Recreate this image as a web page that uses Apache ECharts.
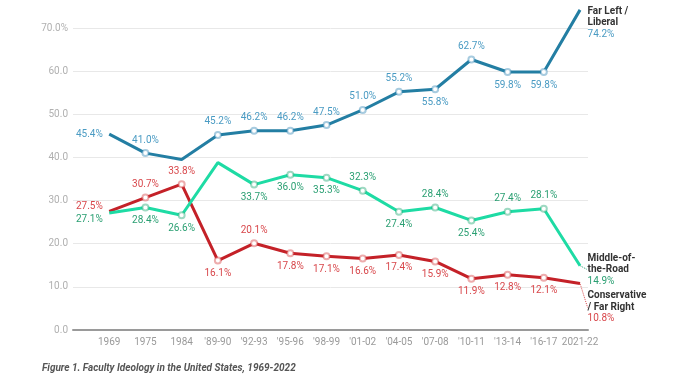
<!DOCTYPE html>
<html>
<head>
<meta charset="utf-8">
<script src="https://cdn.jsdelivr.net/npm/echarts@6/dist/echarts.min.js"></script>
<style>
  html, body { margin: 0; padding: 0; background: #fff; }
  #chart { width: 695px; height: 375px; }
</style>
</head>
<body>
<div id="chart"></div>
<script>
  // survey waves
  var categories = ['1969', '1975', '1984', "'89-90", "'92-93", "'95-96", "'98-99",
    "'01-02", "'04-05", "'07-08", "'10-11", "'13-14", "'16-17", '2021-22']

  // percent of faculty
  var liberal = [45.4, 41.0, 39.5, 45.2, 46.2, 46.2, 47.5, 51.0, 55.2, 55.8, 62.7, 59.8, 59.8, 74.2]
  var middle = [27.1, 28.4, 26.6, 38.8, 33.7, 36.0, 35.3, 32.3, 27.4, 28.4, 25.4, 27.4, 28.1, 14.9]
  var conservative = [27.5, 30.7, 33.8, 16.1, 20.1, 17.8, 17.1, 16.6, 17.4, 15.9, 11.9, 12.8, 12.1, 10.8]

  var seriesNames = ['Far Left /\nLiberal', 'Middle-of-\nthe-Road', 'Conservative\n/ Far Right']
  var yTicks = [0, 10, 20, 30, 40, 50, 60, 70]

  // where each value label sits: t = top, b = bottom, l = left, e = end label, '' = none
  var liberalPlace = ['l', 't', '', 't', 't', 't', 't', 't', 't', 'b', 't', 'b', 'b', 'e']
  var middlePlace = ['l', 'b', 'b', '', 'b', 'b', 'b', 't', 'b', 't', 'b', 't', 't', 'e']
  var conservativePlace = ['l', 't', 't', 'b', 't', 'b', 'b', 'b', 'b', 'b', 'b', 'b', 'b', 'e']

  var posMap = { t: 'top', b: 'bottom', l: 'left', e: 'right' }

  function buildData (values, places, name, labelColor, showGuide) {
    return values.map(function (v, i) {
      var p = places[i]
      var item = { value: [i, v] }
      if (p === '' || p === 'l' || p === 'e') {
        // keep a tiny invisible symbol so the label still has an anchor
        item.symbol = 'circle'
        item.symbolSize = 1
        item.itemStyle = { color: 'rgba(0,0,0,0)', borderWidth: 0 }
      }
      if (p === '') {
        item.label = { show: false }
      } else if (p === 'e') {
        item.label = {
          show: true,
          position: 'right',
          distance: 7,
          formatter: '{n|' + name + '}\n{v|' + v.toFixed(1) + '%}',
          rich: {
            n: { fontFamily: 'Roboto', fontSize: 10, fontWeight: 'bold', color: '#333', lineHeight: 11.5 },
            v: { fontFamily: 'Roboto', fontSize: 10, color: labelColor, lineHeight: 11.5 }
          }
        }
        item.labelLine = {
          show: showGuide,
          lineStyle: { color: labelColor, type: 'dotted', width: 1 }
        }
      } else {
        item.label = {
          show: true,
          position: posMap[p],
          distance: p === 'l' ? 6 : 4
        }
      }
      return item
    })
  }

  function makeSeries (values, places, name, lineColor, markColor, labelColor, firstDy, endDy, showGuide) {
    return {
      type: 'line',
      clip: false,
      silent: true,
      data: buildData(values, places, name, labelColor, showGuide),
      symbol: 'emptyCircle',
      symbolSize: 6,
      showAllSymbol: true,
      lineStyle: { color: lineColor, width: 3 },
      itemStyle: { color: markColor, borderWidth: 1 },
      label: {
        fontFamily: 'Roboto',
        fontSize: 10,
        color: labelColor,
        formatter: function (params) {
          return params.value[1].toFixed(1) + '%'
        }
      },
      labelLayout: function (params) {
        if (params.dataIndex === values.length - 1) {
          return { dy: endDy }
        }
        if (params.dataIndex === 0) {
          return { dy: firstDy }
        }
        return {}
      },
      emphasis: { disabled: true }
    }
  }

  var chart = echarts.init(document.getElementById('chart'))

  var options = {
    animation: false,
    grid: {
      left: 73,
      right: 107,
      top: 28,
      bottom: 45
    },
    xAxis: {
      type: 'value',
      min: -1,
      max: 13.22,
      interval: 1,
      splitLine: { show: false },
      axisTick: { show: false },
      axisLine: { show: true, lineStyle: { color: '#9a9a9a', width: 2 } },
      axisLabel: {
        fontFamily: 'Roboto',
        fontSize: 10,
        color: '#9a9a9a',
        margin: 7,
        formatter: function (v) {
          var i = Math.round(v)
          if (Math.abs(v - i) > 0.001 || i < 0 || i >= categories.length) return ''
          return categories[i]
        }
      }
    },
    yAxis: {
      type: 'value',
      min: yTicks[0],
      max: yTicks[yTicks.length - 1],
      interval: 10,
      axisLine: { show: false },
      axisTick: { show: false },
      splitLine: { lineStyle: { color: '#e8e8e8', width: 1 } },
      axisLabel: {
        fontFamily: 'Roboto',
        fontSize: 10,
        color: '#b0b0b0',
        margin: 5,
        formatter: function (v) {
          return v === yTicks[yTicks.length - 1] ? v.toFixed(1) + '%' : v.toFixed(1)
        }
      }
    },
    series: [
      makeSeries(conservative, conservativePlace, seriesNames[2], '#c42128', 'rgba(214,70,74,0.45)', '#d8474b', -5, 24, true),
      makeSeries(middle, middlePlace, seriesNames[1], '#1edba4', 'rgba(40,170,120,0.45)', '#2a9f72', 6, 4, true),
      makeSeries(liberal, liberalPlace, seriesNames[0], '#237ea3', 'rgba(60,140,185,0.45)', '#4a9bc3', 0, 13, false)
    ],
    graphic: [
      {
        type: 'text',
        left: 42,
        top: 363,
        style: {
          text: 'Figure 1. Faculty Ideology in the United States, 1969-2022',
          fontFamily: 'Roboto',
          fontSize: 10,
          fontWeight: 'bold',
          fontStyle: 'italic',
          fill: '#555'
        }
      }
    ]
  }

  chart.setOption(options)
</script>
</body>
</html>
